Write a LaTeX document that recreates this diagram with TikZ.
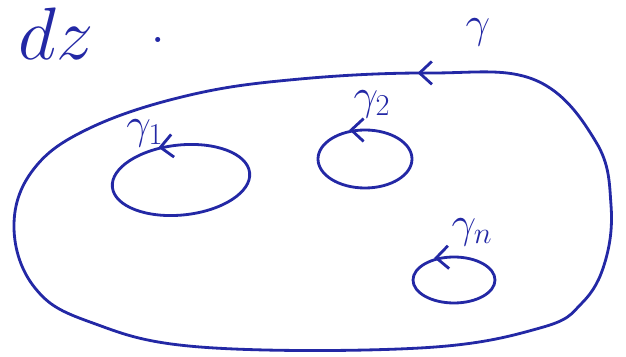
\documentclass[tikz,border=0pt]{standalone}
\usetikzlibrary{arrows.meta,decorations.markings}
\definecolor{ink}{RGB}{35,40,165}
\tikzset{
  pen/.style={draw=ink, line width=1.6pt, line cap=round, line join=round},
  lbl/.style={text=ink, font=\fontsize{25}{27}\selectfont},
  barb/.style={postaction={decorate, decoration={markings,
      mark=at position #1 with {\arrow{Straight Barb[length=7pt,width=13pt,line width=1.6pt]}}}}},
  rbarb/.style={postaction={decorate, decoration={markings,
      mark=at position #1 with {\arrow{Straight Barb[reversed,length=7pt,width=13pt,line width=1.6pt]}}}}}
}
\begin{document}
\begin{tikzpicture}[x=0.02cm, y=-0.02cm]
    \useasboundingbox (0,0) rectangle (626,357);
    % Define centres of the holes
    \coordinate (h1) at (181,180); \coordinate (h2) at (365,159);
    \coordinate (hn) at (454,280);
    % Outer contour
    \draw[pen, barb=0.25cm] plot[smooth cycle, tension=0.65] coordinates {(535,80)
      (430,73) (300,79) (190,95) (90,128) (33,170) (14,228) (35,288) (90,322)
      (200,347) (420,348) (540,328) (582,303) (605,262) (611,205) (596,142)};
    % Inner contours
    \draw[pen, rbarb=0.74] (h1) ellipse [x radius=69, y radius=35, rotate=6];
    \draw[pen, rbarb=0.75] (h2) ellipse [x radius=47, y radius=29];
    \draw[pen, rbarb=0.73] (hn) ellipse [x radius=41, y radius=23];
    % Labels
    \node[lbl, anchor=base west, inner sep=0pt]
      (dz) at (18,60) {\scalebox{1.7}{$dz$}\hspace{1.15cm}\raisebox{0.34cm}{\scalebox{1.4}{.}}};
    \node[lbl] (g) at (478,32) {$\gamma$};
    \node[lbl] (g1) at (145,133) {$\gamma_1$};
    \node[lbl] (g2) at (372,104) {$\gamma_2$};
    \node[lbl] (gn) at (472,232) {$\gamma_n$};
\end{tikzpicture}
\end{document}
